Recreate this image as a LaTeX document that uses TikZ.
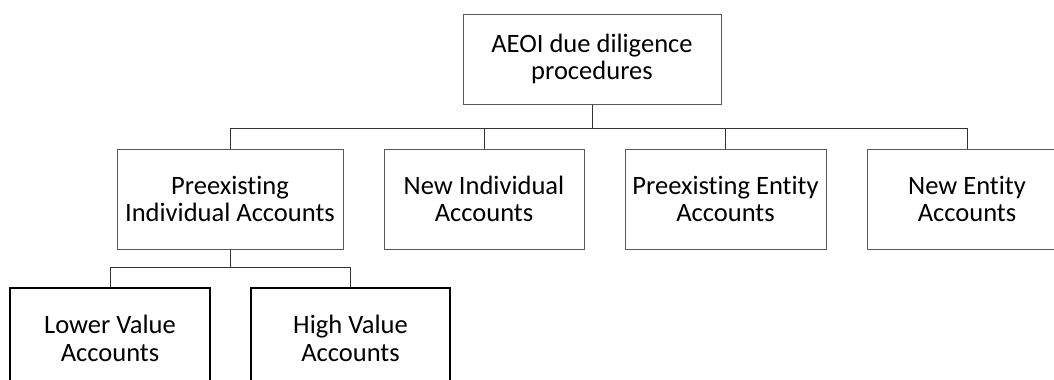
\documentclass[tikz,border=0pt]{standalone}
\usepackage{fontspec}
\setmainfont{Carlito}[Ligatures=NoCommon]
\usetikzlibrary{calc}

\begin{document}
\begin{tikzpicture}[x=0.02cm,y=-0.02cm,
  box/.style={draw=black!65,line width=0.57pt,align=center,inner sep=0pt,
    minimum height=100*0.02cm,font=\fontsize{15.1}{15.8}\selectfont},
  leaf/.style={box,draw=black,line width=1.1pt},
  link/.style={draw=black!80,line width=0.57pt}]

  \useasboundingbox (0,0) rectangle (1054,379);
  \clip (0,0) rectangle (1054,379);

  \coordinate (bus) at (0,128);
  \coordinate (subbus) at (0,267);

  \node[box,minimum width=258*0.02cm,minimum height=90*0.02cm] (aeoi) at (592,59)
    {AEOI due diligence\\procedures};

  \node[box,minimum width=226*0.02cm] (preind) at (230,199)
    {Preexisting\\Individual Accounts};
  \node[box,minimum width=200*0.02cm] (newind) at (484,199)
    {New Individual\\Accounts};
  \node[box,minimum width=201*0.02cm] (preent) at (725.5,199)
    {Preexisting Entity\\Accounts};
  \node[box,minimum width=200*0.02cm] (newent) at (967,199)
    {New Entity\\Accounts};

  \node[leaf,minimum width=200*0.02cm] (lower) at (110,338)
    {Lower Value\\Accounts};
  \node[leaf,minimum width=199*0.02cm] (high) at (350.5,338)
    {High Value\\Accounts};

  \foreach \child in {preind,newind,preent,newent}
    \draw[link] (aeoi.south) |- (\child.north |- bus) -- (\child.north);

  \foreach \child in {lower,high}
    \draw[link] (preind.south) |- (\child.north |- subbus) -- (\child.north);

\end{tikzpicture}
\end{document}
